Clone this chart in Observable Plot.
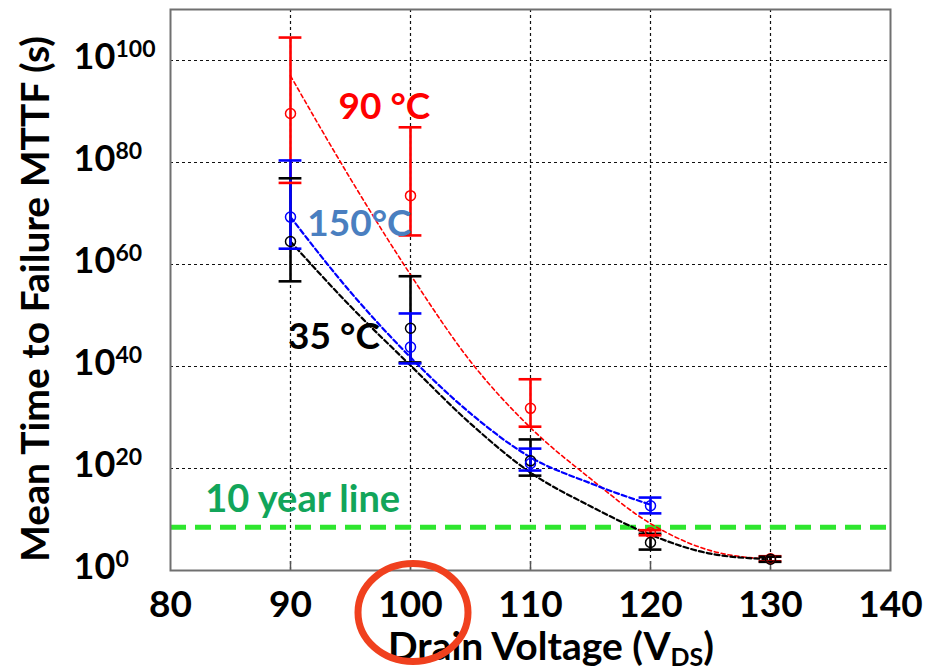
<!DOCTYPE html>
<html><head><meta charset="utf-8">
<script src="https://cdn.jsdelivr.net/npm/d3@7"></script>
<script src="https://cdn.jsdelivr.net/npm/@observablehq/plot@0.6"></script>
<style>body{margin:0;background:#fff;} svg{display:block;}</style>
</head><body><div id="chart"></div>
<script>
// ---- data (values are log10 of MTTF in seconds) ----
const xTicks = [80, 90, 100, 110, 120, 130, 140];
const yTickExp = [0, 20, 40, 60, 80, 100];

const v90 = [90, 100, 110, 120, 130];
const m90 = [89.6, 73.5, 31.8, 7.4, 2.3];
const hi90 = [104.5, 86.9, 37.5, 7.9, 2.8];
const lo90 = [76.0, 65.7, 28.2, 6.9, 1.8];

const v150 = [90, 100, 110, 120];
const m150 = [69.3, 43.8, 21.0, 12.7];
const hi150 = [80.4, 50.4, 23.9, 14.3];
const lo150 = [63.1, 40.6, 19.6, 11.2];

const v35 = [90, 100, 110, 120, 130];
const m35 = [64.5, 47.5, 21.5, 5.5, 2.2];
const hi35 = [76.9, 57.7, 25.7, 7.2, 2.7];
const lo35 = [56.7, 40.8, 18.6, 4.1, 1.7];

const fitV90 = [90, 95, 100, 105, 110, 115, 120, 125, 130];
const fit90 = [97, 76.8, 58, 41, 28, 18, 9.2, 3.9, 2.2];
const fitV150 = [90, 95, 100, 105, 110, 115, 120];
const fit150 = [69.3, 54.6, 41.8, 30.8, 22.2, 17.1, 12.9];
const fitV35 = [90, 95, 100, 105, 110, 115, 120, 125, 130];
const fit35 = [64.5, 51.8, 40.2, 28.8, 19.2, 12.6, 7.0, 3.3, 2.2];

const tenYears = 10 * 365.25 * 86400; // seconds

const seriesNames = ["90 °C", "35 °C", "150°C"];
const seriesColors = ["#ff0000", "#000000", "#0000ff"];

// annotation anchors (data coordinates: volts, log10 seconds)
const labelText = ["90 °C", "150°C", "35 °C"];
const labelV = [94.0, 91.4, 89.8];
const labelE = [90.8, 67.9, 45.7];
const labelFill = ["#ff0000", "#4a7fc0", "#000000"];

// ---- build tables ----
const E = e => Math.pow(10, e);
const pts = [], fits = [];
function addPts(name, xs, m, h, l) { xs.forEach((x, i) => pts.push({series: name, x, mean: E(m[i]), hi: E(h[i]), lo: E(l[i])})); }
function addFit(name, xs, ys) { xs.forEach((x, i) => fits.push({series: name, x, y: E(ys[i])})); }
addPts("90 °C", v90, m90, hi90, lo90);
addPts("35 °C", v35, m35, hi35, lo35);
addPts("150°C", v150, m150, hi150, lo150);
addFit("90 °C", fitV90, fit90);
addFit("35 °C", fitV35, fit35);
addFit("150°C", fitV150, fit150);
const labels = labelText.map((t, i) => ({text: t, x: labelV[i], y: E(labelE[i]), fill: labelFill[i]}));

const colorOf = s => seriesColors[seriesNames.indexOf(s)];
const capHalf = 0.95;

const chart = Plot.plot({
  width: 938, height: 670,
  marginLeft: 170, marginRight: 48, marginTop: 9, marginBottom: 100,
  style: {fontFamily: "Lato, 'Open Sans', sans-serif", fontWeight: "bold", fontSize: "37px", background: "white", color: "#000", overflow: "visible"},
  x: {domain: [80, 140], axis: null},
  y: {type: "log", domain: [1, E(110)], axis: null},
  marks: [
    // grid
    Plot.ruleX(xTicks.slice(1, -1), {stroke: "#111", strokeWidth: 1.2, strokeDasharray: "3,3"}),
    Plot.ruleY(yTickExp.slice(1).map(E), {stroke: "#111", strokeWidth: 1.2, strokeDasharray: "3,3"}),
    // inner bottom ticks
    Plot.axisX({ticks: xTicks.slice(1, -1), tickSize: -9, text: null, label: null, stroke: "#555", strokeWidth: 1.5}),
    // ten year line
    Plot.ruleY([tenYears], {stroke: "#2ee62e", strokeWidth: 5, strokeDasharray: "16,9"}),
    // fit curves
    Plot.line(fits.filter(d => d.series === "90 °C"), {x: "x", y: "y", stroke: colorOf("90 °C"), strokeWidth: 1.6, strokeDasharray: "4,3", curve: "monotone-x"}),
    Plot.line(fits.filter(d => d.series !== "90 °C"), {x: "x", y: "y", z: "series", stroke: d => colorOf(d.series), strokeWidth: 2.2, strokeDasharray: "5,3", curve: "monotone-x"}),
    // error bars
    Plot.ruleX(pts, {x: "x", y1: "lo", y2: "hi", stroke: d => colorOf(d.series), strokeWidth: 2.6}),
    Plot.ruleY(pts, {y: "hi", x1: d => d.x - capHalf, x2: d => d.x + capHalf, stroke: d => colorOf(d.series), strokeWidth: 2.6}),
    Plot.ruleY(pts, {y: "lo", x1: d => d.x - capHalf, x2: d => d.x + capHalf, stroke: d => colorOf(d.series), strokeWidth: 2.6}),
    Plot.dot(pts, {x: "x", y: "mean", r: 5, stroke: d => colorOf(d.series), fill: "none", strokeWidth: 1.5}),
    // series labels
    Plot.text(labels, {x: "x", y: "y", text: "text", fill: "fill", textAnchor: "start", fontSize: 37, fontWeight: "bold"}),
    Plot.text(["10 year line"], {x: 82.9, y: E(13.9), textAnchor: "start", fill: "#12a55a", fontSize: 38, fontWeight: "bold"}),
    // y tick labels: "10" with superscript exponent
    Plot.text(yTickExp, {y: e => E(e), text: () => "10", frameAnchor: "left", dx: -97, dy: -3, textAnchor: "start", fontSize: 36, fill: "#000"}),
    Plot.text(yTickExp, {y: e => E(e), text: e => String(e), frameAnchor: "left", dx: -55, dy: -11, textAnchor: "start", fontSize: 23, fill: "#000"}),
    // x tick labels
    Plot.axisX({ticks: xTicks, tickSize: 0, tickPadding: 20, fontSize: 37, label: null, fill: "#000"}),
    // y title
    Plot.text(["Mean Time to Failure MTTF (s)"], {frameAnchor: "left", dx: -134, dy: 9, rotate: -90, textAnchor: "middle", fontSize: 39, fill: "#000"}),
    Plot.frame({stroke: "#707070", strokeWidth: 2})
  ]
});

document.getElementById("chart").appendChild(chart);

// x title with subscript
const svg = d3.select(chart);
const xs = chart.scale("x");
const midX = (xs.apply(80) + xs.apply(140)) / 2;
const title = svg.append("text")
  .attr("x", midX + 21).attr("y", 660)
  .attr("text-anchor", "middle")
  .attr("font-size", 39).attr("font-weight", "bold").attr("fill", "#000");
title.append("tspan").text("Drain Voltage (V");
title.append("tspan").attr("font-size", 25).attr("dy", 6).text("DS");
title.append("tspan").attr("dy", -6).text(")");

// red highlight ellipse around the "100" tick label
svg.append("ellipse")
  .attr("cx", xs.apply(100) + 3).attr("cy", 612.5)
  .attr("rx", 55).attr("ry", 49)
  .attr("fill", "none").attr("stroke", "#f0401e").attr("stroke-width", 7);
</script>
</body></html>
